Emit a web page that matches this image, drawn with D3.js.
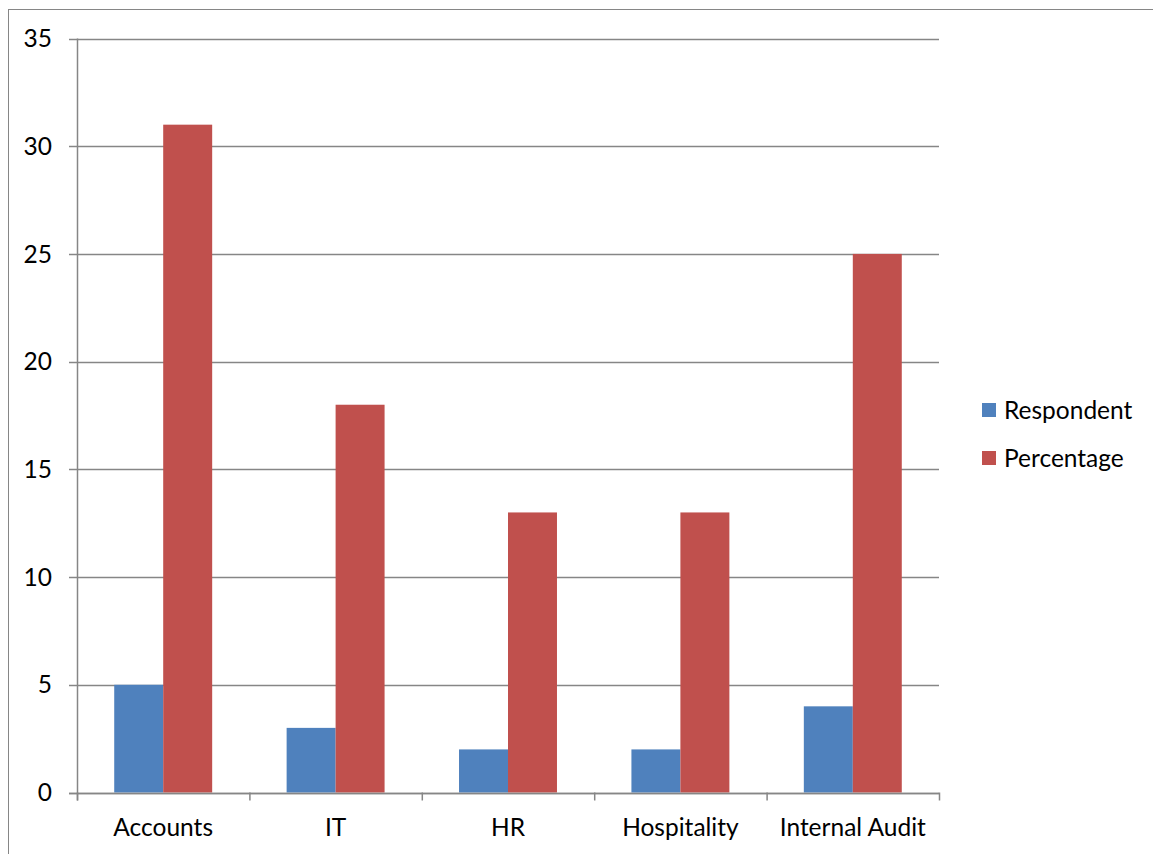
<!DOCTYPE html>
<html><head><meta charset="utf-8">
<script src="https://cdn.jsdelivr.net/npm/d3@7"></script>
<style>body{margin:0;background:#fff;} text{font-family:Lato,"Open Sans",sans-serif;fill:#000;}</style>
</head><body>
<svg id="c" width="1153" height="854"></svg>
<script>
const categories = ["Accounts","IT","HR","Hospitality","Internal Audit"];
const seriesNames = ["Respondent","Percentage"];
const respondent = [5,3,2,2,4];
const percentage = [31,18,13,13,25];
const yTicks = [0,5,10,15,20,25,30,35];
const colors = ["#4F81BD","#C0504D"];

const svg = d3.select("#c");
const L=77, R=939, T=38.5, B=792.5;
const FS = "24.5px";
svg.append("rect").attr("x",8.5).attr("y",9.5).attr("width",1160).attr("height",860)
  .attr("fill","none").attr("stroke","#868686").attr("stroke-width",1);

const x = d3.scaleBand().domain(categories).range([L,R]).paddingInner(0).paddingOuter(0);
const y = d3.scaleLinear().domain([0,35]).range([B,T]);
const grid = "#868686";

svg.append("g").selectAll("line").data(yTicks).join("line")
  .attr("x1",L-8).attr("x2",R).attr("y1",d=>Math.round(y(d))+0.5).attr("y2",d=>Math.round(y(d))+0.5)
  .attr("stroke",grid).attr("stroke-width",1.5);
svg.append("g").selectAll("text").data(yTicks).join("text")
  .attr("x",52).attr("y",d=>y(d)).attr("dy","0.35em").attr("text-anchor","end")
  .style("font-size",FS).text(d=>d);

const inner = d3.scaleBand().domain(seriesNames).range([0,x.bandwidth()]).paddingOuter(0.76).paddingInner(0);
const data = [respondent, percentage];
seriesNames.forEach((s,si)=>{
  svg.append("g").selectAll("rect").data(categories).join("rect")
    .attr("x",(c)=>x(c)+inner(s)).attr("width",inner.bandwidth())
    .attr("y",(c,i)=>y(data[si][i])).attr("height",(c,i)=>y(0)-y(data[si][i]))
    .attr("fill",colors[si]);
});

svg.append("line").attr("x1",L+0.5).attr("x2",L+0.5).attr("y1",T).attr("y2",B+8).attr("stroke",grid).attr("stroke-width",1.5);
svg.append("line").attr("x1",L-8).attr("x2",R).attr("y1",Math.round(y(0))+0.5).attr("y2",Math.round(y(0))+0.5).attr("stroke",grid).attr("stroke-width",1.5);
const bounds = categories.map(c=>x(c)).concat([R]);
svg.append("g").selectAll("line").data(bounds).join("line")
  .attr("x1",d=>d+0.5).attr("x2",d=>d+0.5).attr("y1",B).attr("y2",B+8).attr("stroke",grid).attr("stroke-width",1.5);
svg.append("g").selectAll("text").data(categories).join("text")
  .attr("x",c=>x(c)+x.bandwidth()/2).attr("y",836).attr("text-anchor","middle")
  .style("font-size",FS).text(c=>c);

const lg = svg.append("g");
seriesNames.forEach((s,i)=>{
  lg.append("rect").attr("x",982).attr("y",403+i*48).attr("width",14).attr("height",14).attr("fill",colors[i]);
  lg.append("text").attr("x",1004).attr("y",410+i*48).attr("dy","0.35em").style("font-size",FS).text(s);
});
</script>
</body></html>
